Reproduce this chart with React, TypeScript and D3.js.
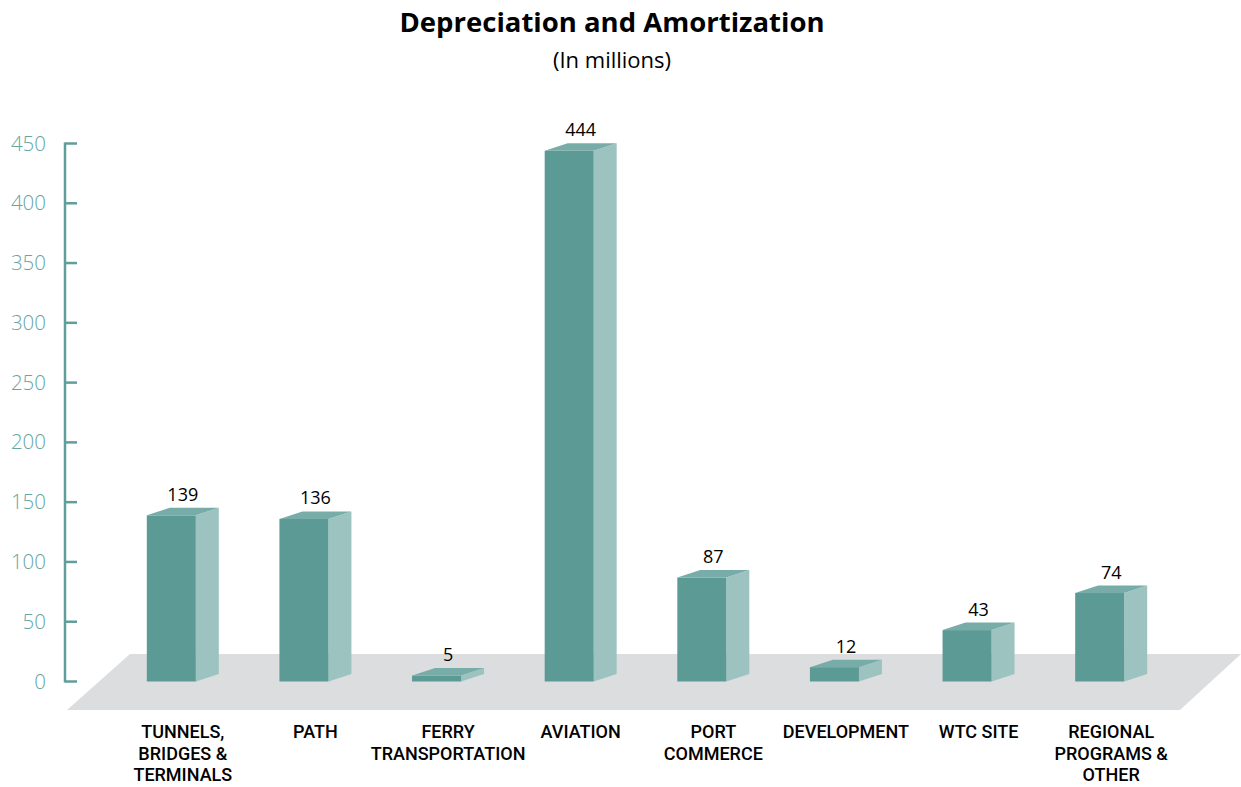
import React from "react";
import * as d3 from "d3";

// Depreciation and amortization by business segment, in millions
const categories: string[][] = [
  ["TUNNELS,", "BRIDGES &", "TERMINALS"],
  ["PATH"],
  ["FERRY", "TRANSPORTATION"],
  ["AVIATION"],
  ["PORT", "COMMERCE"],
  ["DEVELOPMENT"],
  ["WTC SITE"],
  ["REGIONAL", "PROGRAMS &", "OTHER"],
];
const values: number[] = [139, 136, 5, 444, 87, 12, 43, 74];
const yTicks: number[] = [0, 50, 100, 150, 200, 250, 300, 350, 400, 450];

const W = 1241;
const H = 787;
const DX = 23; // depth offset of the 3D boxes
const DY = -7.5;

const FRONT = "#5c9a96";
const SIDE = "#9dc3c1";
const TOP = "#78aca8";
const AXIS = "#5f9e9a";
const TICK_TEXT = "#66a5a1";
const FLOOR = "#dcdddf";

export default function App() {
  const keys = categories.map((c) => c.join(" "));
  const x = d3
    .scaleBand<string>()
    .domain(keys)
    .range([105, 1166])
    .paddingInner(0.6305)
    .paddingOuter(0.6305 / 2);
  const y = d3.scaleLinear().domain([0, 450]).range([681.5, 143.5]);
  const bw = x.bandwidth();
  const axisX = 65;

  const floor = [
    [130, 654],
    [1241, 654],
    [1180, 710],
    [67, 710],
  ];

  return (
    <svg
      width={W}
      height={H}
      viewBox={`0 0 ${W} ${H}`}
      style={{ position: "absolute", left: 0, top: 0, background: "#fff" }}
    >
      <text
        x={612}
        y={32}
        textAnchor="middle"
        fontFamily="'Open Sans', sans-serif"
        fontWeight={700}
        fontSize={27.5}
        fill="#000"
      >
        Depreciation and Amortization
      </text>
      <text
        x={612}
        y={68}
        textAnchor="middle"
        fontFamily="'Open Sans', sans-serif"
        fontSize={22}
        fill="#000"
      >
        (In millions)
      </text>

      {/* floor plane */}
      <polygon points={floor.map((p) => p.join(",")).join(" ")} fill={FLOOR} />

      {/* y axis */}
      <line x1={axisX} x2={axisX} y1={y(450) - 1} y2={y(0) + 1} stroke={AXIS} strokeWidth={2.5} />
      {yTicks.map((t) => (
        <g key={t}>
          <line x1={axisX} x2={axisX + 12} y1={y(t)} y2={y(t)} stroke={AXIS} strokeWidth={2.5} />
          <text
            x={46}
            y={y(t) + 7}
            textAnchor="end"
            fontFamily="'Open Sans', sans-serif"
            fontWeight={300}
            fontSize={20.5}
            fill={TICK_TEXT}
          >
            {t}
          </text>
        </g>
      ))}

      {/* bars */}
      {values.map((v, i) => {
        const x0 = x(keys[i])!;
        const x1 = x0 + bw;
        const yt = y(v);
        const yb = y(0);
        const top = `${x0},${yt} ${x1},${yt} ${x1 + DX},${yt + DY} ${x0 + DX},${yt + DY}`;
        const side = `${x1},${yt} ${x1 + DX},${yt + DY} ${x1 + DX},${yb + DY} ${x1},${yb}`;
        const cx = x0 + (bw + DX) / 2;
        return (
          <g key={keys[i]}>
            <polygon points={side} fill={SIDE} />
            <rect x={x0} y={yt} width={bw} height={yb - yt} fill={FRONT} />
            <polygon points={top} fill={TOP} />
            <text
              x={cx}
              y={yt - 14.5}
              textAnchor="middle"
              fontFamily="'Open Sans', sans-serif"
              fontSize={18}
              fill="#000"
            >
              {v}
            </text>
            {categories[i].map((line, j) => (
              <text
                key={j}
                x={cx}
                y={738 + j * 21.5}
                textAnchor="middle"
                fontFamily="Roboto, sans-serif"
                fontWeight={500}
                fontSize={18}
                fill="#000"
              >
                {line}
              </text>
            ))}
          </g>
        );
      })}
    </svg>
  );
}
